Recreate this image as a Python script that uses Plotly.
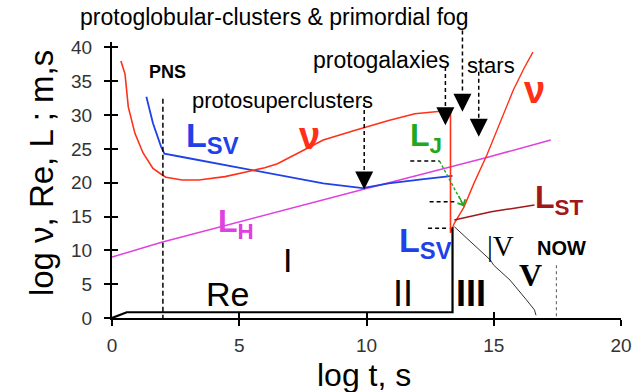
import plotly.graph_objects as go

# ---------------- data ----------------
nu_t = [0.35, 0.51, 0.64, 0.90, 1.22, 1.61, 1.99, 2.12, 2.76, 3.41, 4.44, 5.34, 6.0, 6.5,
        7.66, 8.30, 9.59, 10.87, 11.9, 12.68, 13.3, 13.3]
nu_v = [38.0, 36.1, 31.2, 27.3, 24.4, 22.1, 21.1, 20.8, 20.4, 20.4, 20.9, 21.6, 22.2, 22.8,
        25.1, 26.3, 27.8, 29.2, 30.2, 30.5, 30.7, 12.6]

nu2_t = [13.3, 13.45, 13.83, 14.22, 14.73, 15.2, 15.77, 16.2, 16.54]
nu2_v = [12.6, 14.0, 16.4, 19.9, 24.1, 28.4, 33.7, 37.0, 39.3]

lsv_t = [1.35, 1.61, 1.93, 2.06, 2.76, 4.05, 5.47, 7.01, 8.30, 9.85, 10.87, 12.16, 13.38]
lsv_v = [32.7, 28.8, 25.3, 24.3, 23.8, 22.9, 21.9, 20.9, 19.9, 19.2, 19.9, 20.5, 21.0]

lh_t = [0.0, 1.95, 9.85, 14.69, 17.24]
lh_v = [9.0, 11.2, 19.0, 23.7, 26.3]

lst_t = [13.45, 14.9, 16.6]
lst_v = [14.5, 15.7, 16.7]

lj_t = [12.87, 13.83]
lj_v = [23.2, 16.5]

re_t = [0.0, 0.58, 13.38, 13.38]
re_v = [0.0, 0.85, 0.85, 13.4]

v_t = [13.45, 14.48, 14.86, 15.0, 15.64, 16.28, 16.6, 16.66]
v_v = [13.5, 10.0, 8.6, 7.8, 5.6, 2.7, 1.2, 0.4]

# horizontal dashed guides (start t, end t, level)
guide_t0 = [11.72, 12.48, 12.42]
guide_t1 = [12.87, 13.45, 13.25]
guide_v = [23.2, 17.2, 13.25]

# events pointed by arrows
event_names = ["protosuperclusters", "protogalaxies",
               "protoglobular-clusters & primordial fog", "stars"]
event_t = [9.91, 13.1, 13.77, 14.41]
event_tip = [19.0, 28.5, 30.5, 26.8]
event_top = [31.8, 37.1, 42.5, 36.4]
event_headtop = [21.6, 31.0, 33.2, 29.3]

pns_t, pns_top = 2.0, 32.4
now_t, now_top = 17.46, 7.8

x_ticks = [0, 5, 10, 15, 20]
y_ticks = [0, 5, 10, 15, 20, 25, 30, 35, 40]

X_RANGE = [0, 20]
Y_RANGE = [0, 40.8]

# ---------------- figure ----------------
RED = "#ff3018"
BLUE = "#2040e8"
MAG = "#e040e0"
DRED = "#a01818"
GREEN = "#20a820"
FONT = "Liberation Sans, Arial, sans-serif"
SERIF = "Liberation Serif, Times New Roman, serif"

fig = go.Figure()


def line(x, y, color, width=1.6, dash=None):
    fig.add_trace(go.Scatter(x=x, y=y, mode="lines", hoverinfo="skip",
                             line=dict(color=color, width=width, dash=dash),
                             showlegend=False))


line(lh_t, lh_v, MAG, 1.5)
line(lsv_t, lsv_v, BLUE, 1.8)
line(nu_t, nu_v, RED, 1.6)
line(nu2_t, nu2_v, RED, 1.4)
line(lst_t, lst_v, DRED, 1.5)
line(lj_t, lj_v, GREEN, 1.4, "3px,2px")
line(re_t, re_v, "black", 2.2)
line(v_t, v_v, "#333333", 1.0)

# PNS and NOW dashed verticals
line([pns_t, pns_t], [pns_top, 0], "black", 1.5, "5px,3px")
line([now_t, now_t], [now_top, 0], "#555555", 1.0, "3px,3px")

# horizontal dashed guides
for a, b, v in zip(guide_t0, guide_t1, guide_v):
    line([a, b], [v, v], "black", 1.5, "4px,3px")

# arrow shafts (shapes, not clipped vertically)
for t, top, ht in zip(event_t, event_top, event_headtop):
    fig.add_shape(type="line", xref="x", yref="y domain", x0=t, x1=t,
                  y0=top / Y_RANGE[1], y1=ht / Y_RANGE[1],
                  line=dict(color="black", width=1.5, dash="4px,3px"))

# arrow heads
fig.add_trace(go.Scatter(x=event_t, y=event_tip, mode="markers", hoverinfo="skip",
                         marker=dict(symbol="arrow-down", size=18, color="black",
                                     line=dict(width=0)),
                         showlegend=False, cliponaxis=False))

# green arrow head at L_J end
fig.add_annotation(x=lj_t[-1], y=lj_v[-1], xref="x", yref="y", ax=-6, ay=-12,
                   text="", showarrow=True, arrowhead=4, arrowsize=1.3,
                   arrowwidth=1.3, arrowcolor=GREEN)

# invisible trace for crossing-tick overlay axes
fig.add_trace(go.Scatter(x=[None], y=[None], xaxis="x2", yaxis="y2",
                         showlegend=False, hoverinfo="skip"))

# ---------------- text labels (pixel placement) ----------------
L, R, T, B = 112, 629, 42, 318


def P(px, py):
    return (px - L) / (R - L), (B - py) / (B - T)


def label(text, px, py, size, color="black", family=FONT, angle=0):
    x, y = P(px, py)
    fig.add_annotation(x=x, y=y, xref="paper", yref="paper", text=text,
                       showarrow=False, xanchor="center", yanchor="middle",
                       textangle=angle,
                       font=dict(size=size, color=color, family=family))


label(event_names[2], 277, 17, 23)
label(event_names[1], 386, 60, 23)
label(event_names[3], 497, 65, 22)
label(event_names[0], 285, 100, 22)
label("<b>PNS</b>", 168, 72, 18)
label("<b>L<sub>SV</sub></b>", 214, 137, 34, BLUE)
label("<b>ν</b>", 313, 136, 38, RED)
label("<b>ν</b>", 541, 90, 38, RED)
label("<b>L<sub>J</sub></b>", 431, 137, 32, GREEN)
label("<b>L<sub>H</sub></b>", 238, 223, 32, MAG)
label("<b>L<sub>ST</sub></b>", 566, 199, 32, DRED)
label("<b>L<sub>SV</sub></b>", 430, 242, 34, BLUE)
label("I", 290, 260, 34)
label("II", 408, 293, 36)
label("<b>III</b>", 477, 293, 36)
label("Re", 229, 294, 34)
label("|V", 507, 246, 29, family=SERIF)
label("<b>V</b>", 537, 275, 32, family=SERIF)
label("<b>NOW</b>", 569, 248, 20)
label("log ν, Re, L ; m,s", 40, 173, 33, angle=-90)
label("log t, s", 368, 375, 32)

axis_common = dict(showgrid=False, zeroline=False, color="black")
fig.update_layout(
    width=644, height=392,
    margin=dict(l=L, r=644 - R, t=T, b=392 - B),
    paper_bgcolor="white", plot_bgcolor="white",
    font=dict(family=FONT, color="black"),
    xaxis=dict(range=X_RANGE, tickvals=x_ticks, ticks="outside", ticklen=6,
               tickwidth=1.5, tickcolor="black", showline=True, linewidth=2,
               linecolor="black", tickfont=dict(size=19, color="#333"),
               ticklabelstandoff=3, **axis_common),
    yaxis=dict(range=Y_RANGE, tickvals=y_ticks, ticks="outside", ticklen=6,
               tickwidth=1.5, tickcolor="black", showline=True, linewidth=2,
               linecolor="black", tickfont=dict(size=19, color="#333"),
               ticklabelstandoff=8, **axis_common),
    xaxis2=dict(range=X_RANGE, overlaying="x", anchor="y2", side="bottom",
                tickvals=x_ticks, ticks="inside", ticklen=6, tickwidth=1.5,
                tickcolor="black", showticklabels=False, showline=False,
                **axis_common),
    yaxis2=dict(range=Y_RANGE, overlaying="y", anchor="x2", side="left",
                tickvals=y_ticks, ticks="inside", ticklen=6, tickwidth=1.5,
                tickcolor="black", showticklabels=False, showline=False,
                **axis_common),
)

fig.write_html("out.html")
